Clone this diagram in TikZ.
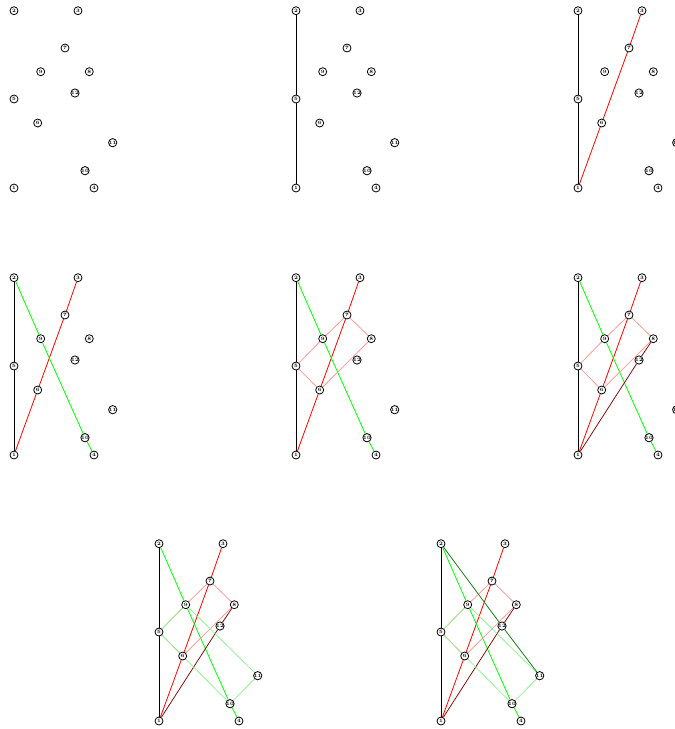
\documentclass[tikz,border=0pt]{standalone}
\usepackage{xcolor}
\usepackage{tikz}
\usetikzlibrary{backgrounds}
\definecolor{pathred}{HTML}{FF0000}
\definecolor{pathgreen}{HTML}{00FF00}
\definecolor{pathpink}{HTML}{FF9C9C}
\definecolor{pathmaroon}{HTML}{7F1010}
\definecolor{pathlime}{HTML}{96F096}
\definecolor{pathforest}{HTML}{1C7A1C}
\tikzset{
  vnode/.style={
    circle, draw=black, line width=0.8pt, fill=white,
    inner sep=0pt, minimum size=8pt,
    font=\fontsize{5}{5}\selectfont\bfseries
  },
  pathedge/.style={line width=0.8pt},
}

\begin{document}
\begin{tikzpicture}[x=1pt, y=-1pt]
  \clip (0,0) rectangle (675,729);
  \foreach \p/\dx/\dy in {1/0/0, 2/282/0, 3/564/0, 4/0/267, 5/282/267, 6/564/267, 7/145/533, 8/427/533} {
    \begin{scope}[shift={(\dx,\dy)}, name prefix=g\p-]
      \foreach \n/\x/\y in {1/14/188, 2/14/10.7, 3/78/10.7, 4/94/188, 5/14/99, 6/37.7/123,
                            7/65/48, 8/89.3/71.7, 9/40.7/71.7, 10/85/170.7, 11/112.7/142.7, 12/75/93}
        \node[vnode] (\n) at (\x,\y) {\n};
    \end{scope}
  }
  \begin{scope}[on background layer]
    \foreach \s/\col/\route in {1/black/{2/5,5/1}, 2/pathred/{3/7,7/6,6/1},
                                3/pathgreen/{2/9,9/10,10/4}, 4/pathpink/{5/9,9/7,7/8,8/6,6/5},
                                5/pathmaroon/{1/12,12/8}, 6/pathlime/{5/9,9/11,11/10,10/6,6/5},
                                7/pathforest/{2/12,12/11}} {
      \foreach \p in {1,...,8} {
        \ifnum\p>\s
          \foreach \a/\b in \route
            \draw[pathedge, draw=\col] (g\p-\a) -- (g\p-\b);
        \fi
      }
    }
  \end{scope}
\end{tikzpicture}
\end{document}
